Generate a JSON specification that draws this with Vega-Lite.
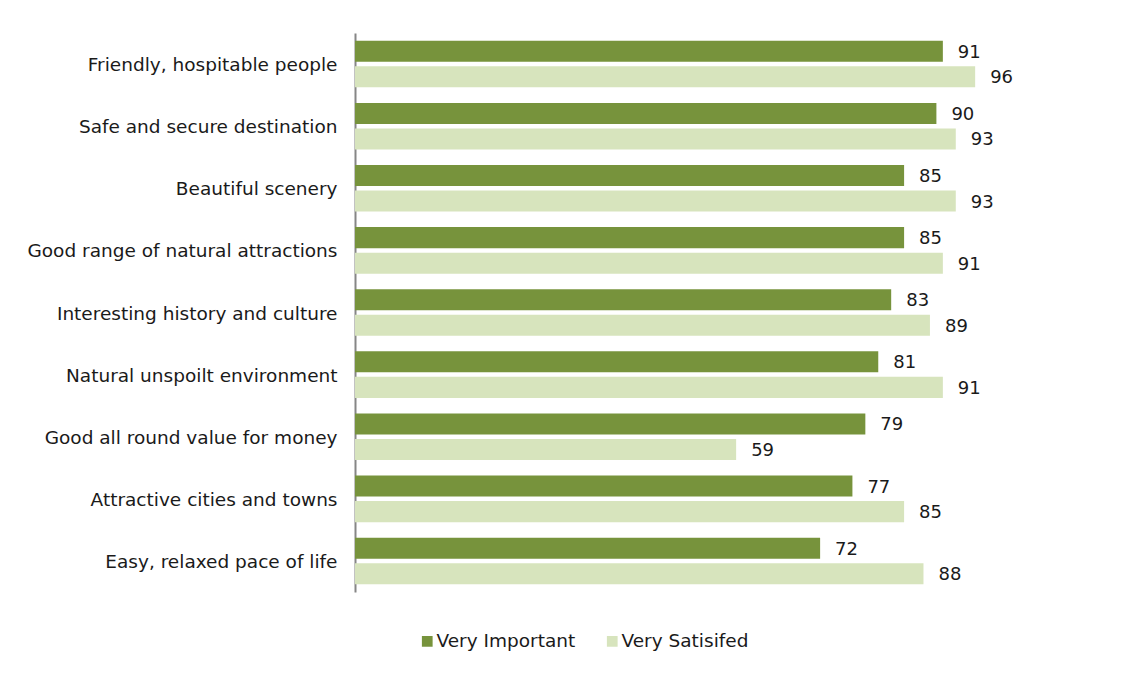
{
  "$schema": "https://vega.github.io/schema/vega-lite/v6.json",
  "width": 646,
  "height": 559,
  "autosize": {"type": "none"},
  "padding": {"left": 355, "top": 33, "right": 143, "bottom": 83},
  "background": "white",
  "config": {
    "view": {"stroke": null},
    "font": "DejaVu Sans"
  },
  "data": {
    "values": [
      {"attribute": "Friendly, hospitable people", "measure": "Very Important", "value": 91},
      {"attribute": "Friendly, hospitable people", "measure": "Very Satisifed", "value": 96},
      {"attribute": "Safe and secure destination", "measure": "Very Important", "value": 90},
      {"attribute": "Safe and secure destination", "measure": "Very Satisifed", "value": 93},
      {"attribute": "Beautiful scenery", "measure": "Very Important", "value": 85},
      {"attribute": "Beautiful scenery", "measure": "Very Satisifed", "value": 93},
      {"attribute": "Good range of natural attractions", "measure": "Very Important", "value": 85},
      {"attribute": "Good range of natural attractions", "measure": "Very Satisifed", "value": 91},
      {"attribute": "Interesting history and culture", "measure": "Very Important", "value": 83},
      {"attribute": "Interesting history and culture", "measure": "Very Satisifed", "value": 89},
      {"attribute": "Natural unspoilt environment", "measure": "Very Important", "value": 81},
      {"attribute": "Natural unspoilt environment", "measure": "Very Satisifed", "value": 91},
      {"attribute": "Good all round value for money", "measure": "Very Important", "value": 79},
      {"attribute": "Good all round value for money", "measure": "Very Satisifed", "value": 59},
      {"attribute": "Attractive cities and towns", "measure": "Very Important", "value": 77},
      {"attribute": "Attractive cities and towns", "measure": "Very Satisifed", "value": 85},
      {"attribute": "Easy, relaxed pace of life", "measure": "Very Important", "value": 72},
      {"attribute": "Easy, relaxed pace of life", "measure": "Very Satisifed", "value": 88}
    ]
  },
  "encoding": {
    "y": {
      "field": "attribute",
      "type": "nominal",
      "sort": null,
      "scale": {"paddingInner": 0.25, "paddingOuter": 0.125},
      "axis": {
        "title": null,
        "ticks": false,
        "domainColor": "#868686",
        "domainWidth": 2,
        "labelFontSize": 18.5,
        "labelColor": "#1a1a1a",
        "labelPadding": 18,
        "labelLimit": 400,
        "labelOffset": 1
      }
    },
    "x": {
      "field": "value",
      "type": "quantitative",
      "scale": {"domain": [0, 100]},
      "axis": null
    },
    "yOffset": {
      "field": "measure",
      "type": "nominal",
      "sort": ["Very Important", "Very Satisifed"],
      "scale": {"paddingInner": 0.176, "paddingOuter": 0}
    }
  },
  "layer": [
    {
      "mark": {"type": "bar"},
      "encoding": {
        "color": {
          "field": "measure",
          "type": "nominal",
          "sort": ["Very Important", "Very Satisifed"],
          "scale": {"domain": ["Very Important", "Very Satisifed"], "range": ["#77933C", "#D7E4BD"]},
          "legend": {
            "title": null,
            "orient": "none",
            "direction": "horizontal",
            "legendX": 63,
            "legendY": 599,
            "symbolType": "square",
            "symbolSize": 115,
            "symbolStrokeWidth": 0,
            "labelFontSize": 18.5,
            "labelColor": "#1a1a1a",
            "labelOffset": 0,
            "columnPadding": 27
          }
        }
      }
    },
    {
      "mark": {"type": "text", "align": "left", "baseline": "middle", "dx": 15, "dy": 1.5, "fontSize": 18, "color": "#1a1a1a"},
      "encoding": {
        "text": {"field": "value", "type": "quantitative"}
      }
    }
  ]
}
